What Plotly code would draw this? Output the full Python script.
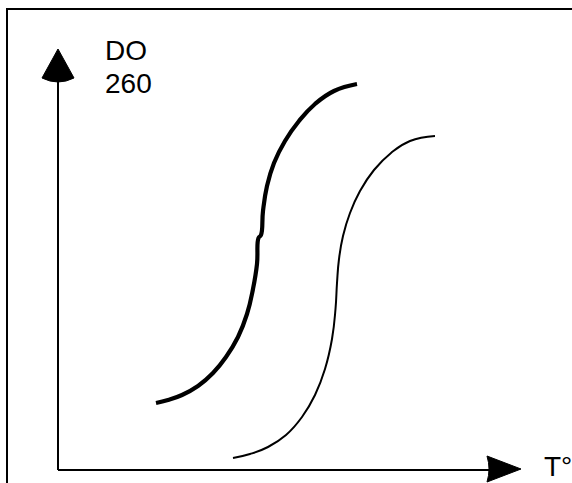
import plotly.graph_objects as go

# Schematic melting curves (temperature vs. absorbance at 260 nm), arbitrary units
thick_T = [98, 110, 124, 140, 155, 168, 180, 189, 195, 199, 200.5, 203, 205, 209, 216, 227, 241, 257, 276, 299]
thick_DO = [66, 69, 74, 83, 96, 112, 132, 155, 180, 205, 231, 234, 258, 283, 306, 328, 348, 365, 378, 385]

thin_T = [175, 192, 210, 228, 244, 257, 267, 274, 277.5, 279, 281, 285, 292, 302, 316, 333, 352, 377]
thin_DO = [11, 15, 22, 34, 52, 74, 100, 130, 160, 186, 210, 233, 256, 278, 299, 316, 328, 333]

y_label = ["DO", "260"]
x_label = "T°"

FONT = "Liberation Sans, Arial, sans-serif"

fig = go.Figure()
fig.add_trace(go.Scatter(x=thick_T, y=thick_DO, mode="lines",
                         line=dict(color="black", width=4.2, shape="spline", smoothing=1.3),
                         hoverinfo="skip", showlegend=False))
fig.add_trace(go.Scatter(x=thin_T, y=thin_DO, mode="lines",
                         line=dict(color="black", width=2, shape="spline", smoothing=1.3),
                         hoverinfo="skip", showlegend=False))

shapes = [
    # frame (top and left)
    dict(type="line", x0=-51, y0=-14, x1=-51, y1=461, line=dict(color="black", width=2)),
    dict(type="line", x0=-51, y0=460, x1=520, y1=460, line=dict(color="black", width=2)),
    # axes
    dict(type="line", x0=0, y0=-1, x1=0, y1=390, line=dict(color="black", width=2)),
    dict(type="line", x0=0, y0=-1, x1=432, y1=-1, line=dict(color="black", width=2)),
    # arrowheads
    dict(type="path", path="M -16,391 L 0,420 L 16,391 Q 0,383 -16,391 Z",
         fillcolor="black", line=dict(color="black", width=1)),
    dict(type="path", path="M 429,13 L 463,0 L 429,-13 Q 433,0 429,13 Z",
         fillcolor="black", line=dict(color="black", width=1)),
]

annotations = [
    dict(x=45, y=419, text=y_label[0], showarrow=False, xanchor="left", yanchor="middle",
         font=dict(family=FONT, size=28, color="black")),
    dict(x=45, y=386, text=y_label[1], showarrow=False, xanchor="left", yanchor="middle",
         font=dict(family=FONT, size=28, color="black")),
    dict(x=484, y=3, text=x_label, showarrow=False, xanchor="left", yanchor="middle",
         font=dict(family=FONT, size=28, color="black")),
]

fig.update_layout(
    width=572, height=483,
    margin=dict(l=0, r=0, t=0, b=0),
    paper_bgcolor="white", plot_bgcolor="white",
    xaxis=dict(range=[-58, 514], visible=False, fixedrange=True),
    yaxis=dict(range=[-14, 469], visible=False, fixedrange=True),
    shapes=shapes, annotations=annotations,
    showlegend=False,
)

fig.write_html("out.html", config={"displayModeBar": False, "staticPlot": True})

# remove the default page margin so the figure sits at the window's top-left corner
with open("out.html", encoding="utf-8") as f:
    html = f.read()
html = html.replace("<body>", '<body style="margin:0;padding:0;overflow:hidden">', 1)
with open("out.html", "w", encoding="utf-8") as f:
    f.write(html)
